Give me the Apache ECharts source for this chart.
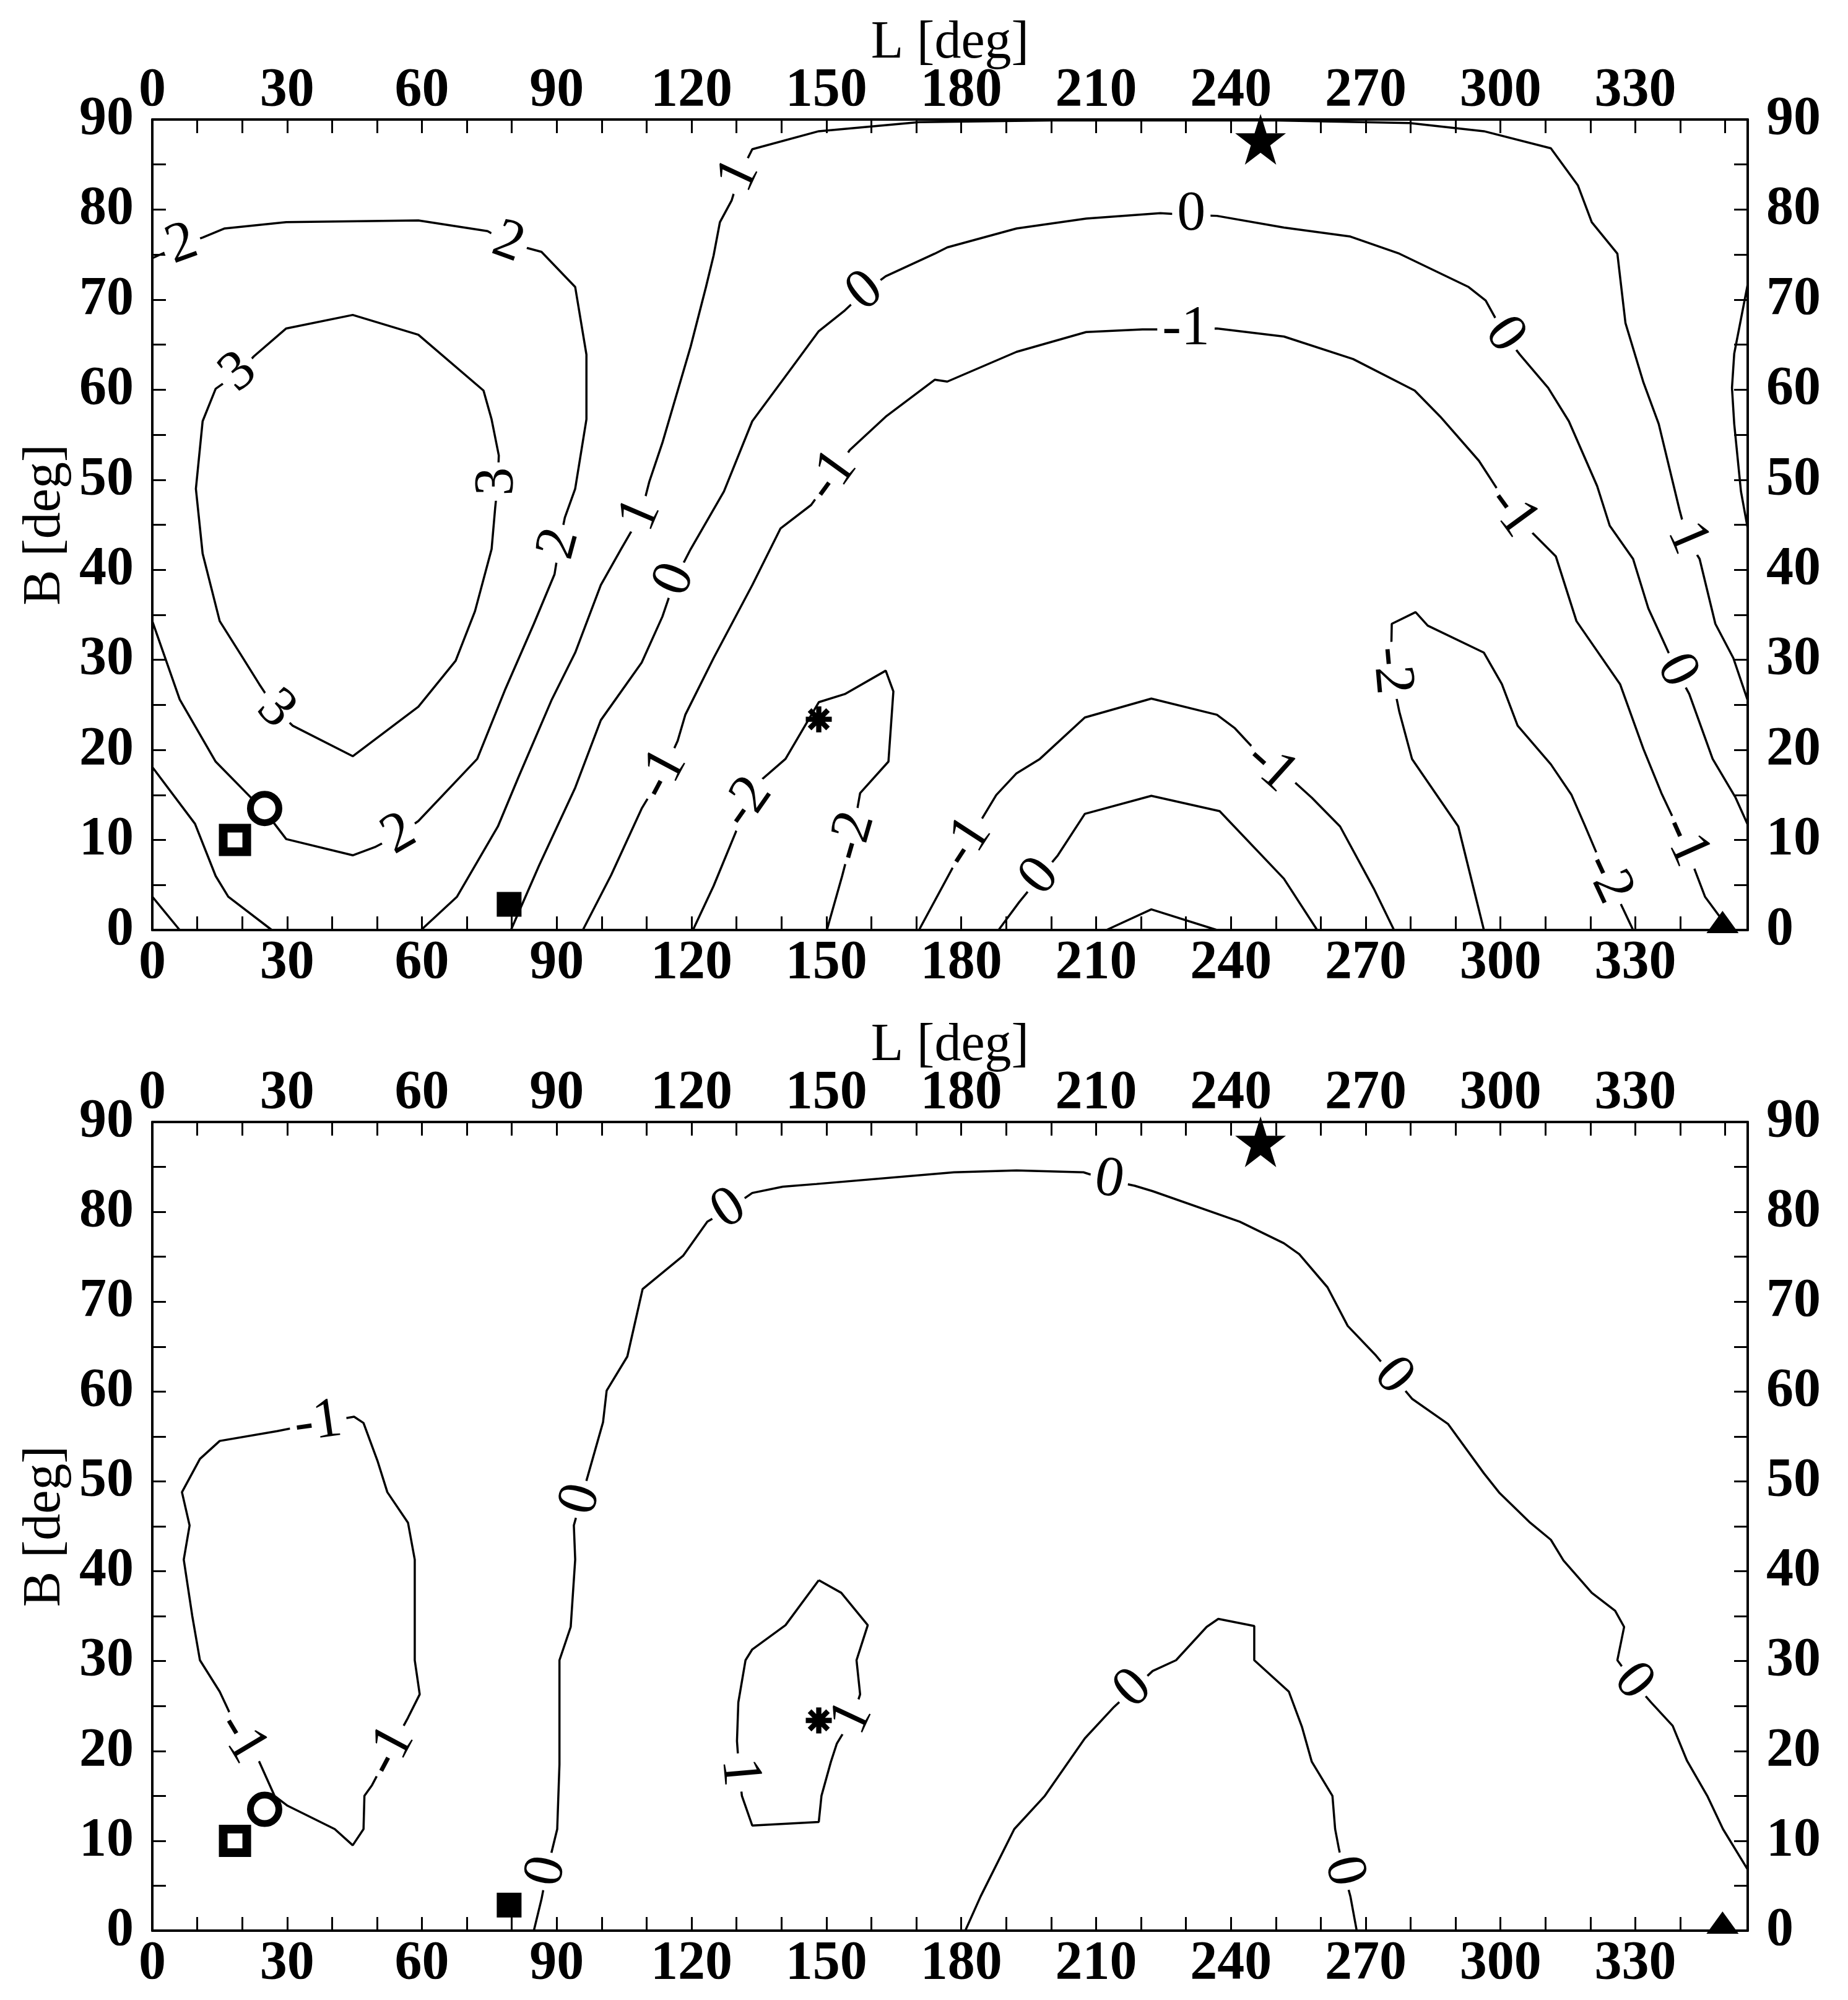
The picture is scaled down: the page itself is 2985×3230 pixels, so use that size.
<!DOCTYPE html>
<html><head><meta charset="utf-8">
<script src="https://cdn.jsdelivr.net/npm/echarts@6/dist/echarts.min.js"></script>
<style>html,body{margin:0;padding:0;background:#fff}#c{width:2985px;height:3230px}</style>
</head><body><div id="c"></div>
<script>
// ---------- axis data ----------
const L_MIN = 0, L_MAX = 355, L_STEP = 10, L_LABEL_STEP = 30;
const B_MIN = 0, B_MAX = 90, B_STEP = 5, B_LABEL_STEP = 10;
const axisNameX = 'L [deg]';
const axisNameY = 'B [deg]';

// ---------- markers [L, B] ----------
const openSquare = [18.4, 10.0];
const openCircle = [25.0, 13.5];
const filledSquare = [79.4, 2.85];
const asterisk = [148.3, 23.4];
const star = [246.6, 87.8];
const triangle = [349.4, 0.9];

// ---------- top panel contours ----------
const top_c2 = [[0,74.6],[6.6,76.1],[11.2,76.9],[16.1,77.9],[29.8,78.6],[59.2,78.8],[74.6,77.6],[79.2,76.3],[86.6,75.3],[94.1,71.4],[96.6,63.9],[96.6,56.7],[94.1,49.0],[91.8,45.8],[90.6,42.9],[89.5,39.5],[84.9,34.0],[78.6,26.8],[72.3,19.0],[59.2,12.1],[54.9,10.6],[49.5,9.2],[44.6,8.3],[29.8,10.1],[25.5,12.9],[14.1,18.7],[6.1,25.6],[0,34.3]];
const top_c3 = [[19.2,61.9],[22.6,63.7],[29.8,66.8],[44.6,68.3],[59.2,66.1],[73.7,59.9],[75.5,56.7],[77.1,52.7],[76.9,49.8],[76.3,46.9],[75.5,42.3],[71.8,35.4],[67.5,29.9],[59.2,24.8],[44.6,19.3],[31.2,22.7],[27.5,24.5],[23.8,27.3],[19.8,30.5],[15.0,34.3],[11.2,41.8],[9.7,49.0],[11.2,56.5],[14.1,60.1],[19.2,61.9]];
const top_c1_corner = [[0,18.1],[9.5,11.8],[14.1,6.0],[16.9,3.7],[26.6,0]];
const top_c0_corner = [[0,3.7],[6.1,0]];
const top_c1 = [[59.8,0],[67.8,3.7],[76.9,11.5],[81.5,17.0],[88.9,25.6],[94.1,30.8],[99.8,38.3],[104.3,42.3],[108.7,46.1],[110.6,49.8],[113.5,54.1],[119.8,64.8],[123.2,71.4],[124.9,74.9],[126.3,78.6],[128.9,81.0],[130.6,83.8],[133.5,86.7],[148.3,88.7],[170.6,89.7],[200,89.9],[250,89.9],[279.8,89.6],[296.3,88.7],[311.2,86.8],[317.2,82.7],[320.3,78.6],[326.0,75.1],[327.8,67.4],[331.8,60.8],[335.2,56.2],[339.8,46.7],[341.5,43.5],[344.3,41.2],[347.8,34.0],[351.8,30.2],[355,25.5]];
const top_c0 = [[79.8,0],[86.1,7.2],[94.1,15.8],[99.8,23.3],[108.9,29.7],[113.5,34.8],[116.3,38.9],[119.8,42.3],[127.2,48.7],[133.5,56.5],[141.5,61.9],[148.3,66.5],[154.1,68.8],[158.6,70.9],[163.2,72.6],[174.1,75.1],[176.9,75.8],[192.3,77.9],[207.8,79.0],[224.3,79.6],[231.2,79.4],[236.9,79.3],[251.8,78.0],[266.6,77.0],[277.5,75.1],[292.9,71.4],[296.7,69.9],[300.9,66.1],[304.3,63.9],[310.6,60.2],[315.2,56.5],[321.5,49.3],[324.3,44.9],[329.5,41.2],[332.9,35.7],[336.3,32.0],[339.2,28.8],[342.0,26.2],[347.2,19.0],[352.3,14.7],[355,11.7]];
const top_cm1 = [[95.8,0],[102.1,6.1],[108.9,13.5],[113.5,17.3],[116.9,21.0],[118.6,23.9],[124.9,30.2],[133.5,38.3],[139.8,44.6],[146.6,47.2],[151.2,50.4],[155.2,53.3],[163.2,57.0],[174.1,61.1],[176.9,60.9],[192.3,64.2],[207.8,66.4],[220.3,66.7],[230,66.7],[236.9,66.8],[251.8,65.9],[267.2,63.4],[280.9,59.9],[286.6,57.0],[295.2,52.1],[302.6,46.4],[305.5,44.9],[312.3,41.5],[316.9,34.3],[326.6,27.3],[331.8,20.1],[335.8,15.2],[340.9,9.8],[342.6,7.5],[345.5,3.7],[349.5,1.0],[350.3,0]];
const top_cm2 = [[120.3,0],[124.9,4.9],[130.6,11.8],[132.3,14.1],[133.5,15.8],[140.9,19.0],[148.3,25.3],[154.1,26.2],[163.2,28.8],[164.9,26.5],[163.8,18.7],[157.5,15.2],[155.8,10.4],[153.5,6.0],[150.1,0]];
const top_cm1_arch = [[170.6,0],[178.5,7.3],[181.2,9.7],[183.2,11.2],[187.8,15.0],[192.3,17.4],[197.5,19.0],[207.5,23.6],[222.3,25.7],[236.9,23.9],[240.9,22.4],[248.9,18.1],[252.9,17.0],[258.0,14.7],[264.3,11.5],[271.8,4.6],[276.3,0]];
const top_c0_arch = [[188.3,0],[192.9,3.1],[197.5,5.9],[201.5,8.3],[207.5,12.9],[222.3,14.9],[237.5,13.2],[251.8,5.7],[259.2,0]];
const top_c1_arch = [[212.3,0],[222.3,2.3],[236.9,0]];
const top_cm2_right = [[329.5,0],[326.0,3.7],[323.8,5.7],[318.6,11.8],[315.8,15.0],[311.2,18.4],[303.8,22.7],[300.3,27.3],[296.3,30.8],[283.8,33.8],[281.1,35.3],[275.8,34.0],[275.6,28.8],[277.5,24.2],[280.3,19.0],[290.6,11.5],[296.3,0]];
const top_c2_edge = [[355,71.7],[352.0,64.0],[351.5,60.2],[352.0,56.2],[353.5,48.7],[355,44.6]];

// [text, L, B, rotation]
const top_labels = [
  ['2',6.6,76.1,20],['2',79.2,76.3,-20],['2',90.6,42.9,75],['2',54.9,10.6,30],
  ['3',19.2,61.9,40],['3',76.9,49.8,90],['3',27.5,24.5,-45],
  ['1',108.7,46.1,67],['1',130.6,83.8,65],['1',341.5,43.5,-67],
  ['0',116.3,38.9,67],['0',158.6,70.9,39],['0',231.2,79.4,0],['0',300.9,66.1,-55],['0',339.2,28.8,-63],['0',197.5,5.9,50],
  ['-1',113.5,17.3,62],['-1',151.2,50.4,54],['-1',230,66.7,0],['-1',302.6,46.4,-54],['-1',340.9,9.8,-66],['-1',181.2,9.7,57],['-1',248.9,18.1,-42],
  ['-2',132.3,14.1,55],['-2',155.8,10.4,74],['-2',275.6,28.8,-85],['-2',323.8,5.7,-65]
];

// ---------- bottom panel contours ----------
const bot_c0 = [[84.9,0],[86.6,3.5],[87.8,6.6],[90.1,11.3],[90.6,18.5],[90.6,26.6],[90.6,30.1],[93.1,33.8],[94.1,41.3],[93.8,45.1],[95.4,48.0],[96.9,50.6],[100.3,56.6],[101.1,60.1],[105.7,63.9],[109.1,71.4],[118.1,75.1],[123.5,78.9],[128.3,80.3],[133.5,82.1],[140.3,82.8],[147.8,83.1],[178.4,84.4],[192.3,84.6],[207.2,84.4],[212.9,83.5],[218.6,82.9],[222.6,82.3],[242.0,78.9],[251.8,76.5],[255.2,75.3],[261.5,71.6],[266.0,67.3],[272.3,64.0],[276.1,61.7],[280.3,59.2],[288.3,56.4],[296.3,50.9],[299.8,48.7],[306.6,45.4],[311.2,43.5],[314.0,41.2],[320.3,37.6],[325.5,35.6],[327.5,33.8],[326.0,30.1],[329.5,27.7],[333.5,25.4],[338.3,22.8],[341.5,18.9],[346.0,15.0],[349.5,11.3],[355,6.8]];
const bot_c0_arch = [[180.9,0],[184.3,3.8],[191.8,11.3],[198.6,15.0],[207.5,21.4],[214.0,24.9],[218.3,26.9],[222.6,28.9],[227.8,30.1],[234.6,33.8],[237.2,34.7],[245.2,33.9],[245.2,30.1],[252.9,26.6],[255.8,22.7],[258.0,18.8],[262.6,15.0],[263.2,11.3],[264.0,9.2],[265.1,6.6],[266.6,3.8],[268.0,0]];
const bot_cm1 = [[36.9,56.5],[44.9,57.2],[47.0,56.5],[50.1,52.3],[52.3,48.8],[56.9,45.4],[58.4,41.3],[58.4,30.1],[59.5,26.3],[56.9,23.7],[52.9,20.0],[48.9,16.2],[47.2,15.0],[47.0,11.3],[44.6,9.5],[40.6,11.3],[30.1,13.9],[27.2,15.0],[23.8,18.8],[19.8,21.4],[16.6,24.9],[15.0,26.6],[10.6,30.1],[8.9,35.0],[7.0,41.3],[8.3,45.1],[6.6,48.8],[10.6,52.5],[15.0,54.5],[27.8,55.6],[36.9,56.5]];
const bot_c1 = [[148.3,39.0],[153.3,37.6],[159.2,34.0],[156.7,30.1],[157.5,26.3],[155.8,23.7],[152.3,20.8],[151.0,18.8],[148.9,15.0],[148.3,12.1],[133.5,11.7],[131.2,15.0],[130.6,17.6],[130.1,21.1],[130.4,25.4],[132.0,30.1],[133.5,31.3],[140.9,34.0],[148.3,39.0]];

const bot_labels = [
  ['0',87.8,6.6,77],['0',95.4,48.0,74],['0',128.3,80.3,32],['0',212.9,83.5,-10],['0',276.1,61.7,-50],['0',329.5,27.7,-51],['0',218.3,26.9,43],['0',265.1,6.6,-76],
  ['-1',36.9,56.5,8],['-1',52.9,20.0,62],['-1',19.8,21.4,-59],['1',155.8,23.7,65],['1',130.6,17.6,-85]
];

const topPaths = [top_c2, top_c3, top_c1_corner, top_c0_corner, top_c1, top_c0, top_cm1, top_cm2, top_cm1_arch, top_c0_arch, top_c1_arch, top_cm2_right, top_c2_edge];
const botPaths = [bot_c0, bot_c0_arch, bot_cm1, bot_c1];

// ---------- build chart ----------
const SERIF = 'Liberation Serif';
const STAR_PATH = 'path://M0,-10 L2.245,-3.09 L9.51,-3.09 L3.633,1.18 L5.88,8.09 L0,3.82 L-5.88,8.09 L-3.633,1.18 L-9.51,-3.09 L-2.245,-3.09 Z';
const AST_PATH = 'path://M-10,-2 L10,-2 L10,2 L-10,2 Z M-2,-10 L2,-10 L2,10 L-2,10 Z M-5.66,-8.49 L8.49,5.66 L5.66,8.49 L-8.49,-5.66 Z M-8.49,5.66 L5.66,-8.49 L8.49,-5.66 L-5.66,8.49 Z';

const grids = [
  {left: 246, top: 193, width: 2577, height: 1309},
  {left: 246, top: 1812, width: 2577, height: 1306}
];

const xAxes = [], yAxes = [], series = [];
const tickStyle = {show: true, inside: true, length: 22, lineStyle: {color: '#000', width: 3}};
const lineStyle = {show: true, onZero: false, lineStyle: {color: '#000', width: 4}};
const numFont = {fontFamily: SERIF, fontWeight: 'bold', fontSize: 88, color: '#000'};

grids.forEach((g, gi) => {
  ['bottom', 'top'].forEach(pos => {
    xAxes.push({
      type: 'value', gridIndex: gi, position: pos, min: L_MIN, max: L_MAX, interval: L_STEP,
      axisLine: lineStyle, axisTick: tickStyle, splitLine: {show: false},
      axisLabel: Object.assign({margin: pos === 'bottom' ? 10 : 2, showMaxLabel: false,
        formatter: v => (v % L_LABEL_STEP === 0 ? String(v) : '')}, numFont),
      name: pos === 'top' ? axisNameX : '', nameLocation: 'middle', nameGap: 80, nameMoveOverlap: false,
      nameTextStyle: {fontFamily: SERIF, fontSize: 86, color: '#000'}
    });
  });
  ['left', 'right'].forEach(pos => {
    yAxes.push({
      type: 'value', gridIndex: gi, position: pos, min: B_MIN, max: B_MAX, interval: B_STEP,
      axisLine: lineStyle, axisTick: tickStyle, splitLine: {show: false},
      axisLabel: Object.assign({margin: 30,
        formatter: v => (v % B_LABEL_STEP === 0 ? String(v) : '')}, numFont),
      name: pos === 'left' ? axisNameY : '', nameLocation: 'middle', nameGap: 130, nameRotate: 90,
      nameTextStyle: {fontFamily: SERIF, fontSize: 86, color: '#000'}
    });
  });
});

function addPanel(gi, paths, labels) {
  const xi = gi * 2, yi = gi * 2;
  paths.forEach(p => series.push({
    type: 'line', xAxisIndex: xi, yAxisIndex: yi, data: p, symbol: 'none', showSymbol: false,
    lineStyle: {color: '#000', width: 3.5, opacity: 1}, silent: true, z: 2, animation: false
  }));
  series.push({
    type: 'scatter', xAxisIndex: xi, yAxisIndex: yi, symbolSize: 1, z: 4, silent: true, animation: false,
    itemStyle: {color: 'rgba(255,255,255,0)', opacity: 1},
    data: labels.map(([t, L, B, r]) => ({name: t, value: [L, B], label: {rotate: r}})),
    label: {show: true, position: 'inside', formatter: '{b}', fontFamily: SERIF, fontSize: 92,
      color: '#000', opacity: 1, backgroundColor: '#fff', padding: [0, 8], lineHeight: 70}
  });
  const mk = (pt, opts) => series.push(Object.assign({
    type: 'scatter', xAxisIndex: xi, yAxisIndex: yi, data: [pt], clip: false, z: 6, silent: true, animation: false
  }, opts));
  mk(openSquare, {symbol: 'rect', symbolSize: 38, itemStyle: {color: '#fff', borderColor: '#000', borderWidth: 14, opacity: 1}});
  mk(openCircle, {symbol: 'circle', symbolSize: 46, itemStyle: {color: '#fff', borderColor: '#000', borderWidth: 11, opacity: 1}});
  mk(filledSquare, {symbol: 'rect', symbolSize: 40, itemStyle: {color: '#000', opacity: 1}});
  mk(asterisk, {symbol: AST_PATH, symbolSize: 42, itemStyle: {color: '#000', opacity: 1}});
  mk(star, {symbol: STAR_PATH, symbolSize: [82, 82], itemStyle: {color: '#000', opacity: 1}});
  mk(triangle, {symbol: 'triangle', symbolSize: [52, 36], itemStyle: {color: '#000', opacity: 1}});
}
addPanel(0, topPaths, top_labels);
addPanel(1, botPaths, bot_labels);

const chart = echarts.init(document.getElementById('c'), null, {renderer: 'canvas'});
chart.setOption({
  backgroundColor: '#fff', animation: false,
  grid: grids, xAxis: xAxes, yAxis: yAxes, series: series
});
</script></body></html>
